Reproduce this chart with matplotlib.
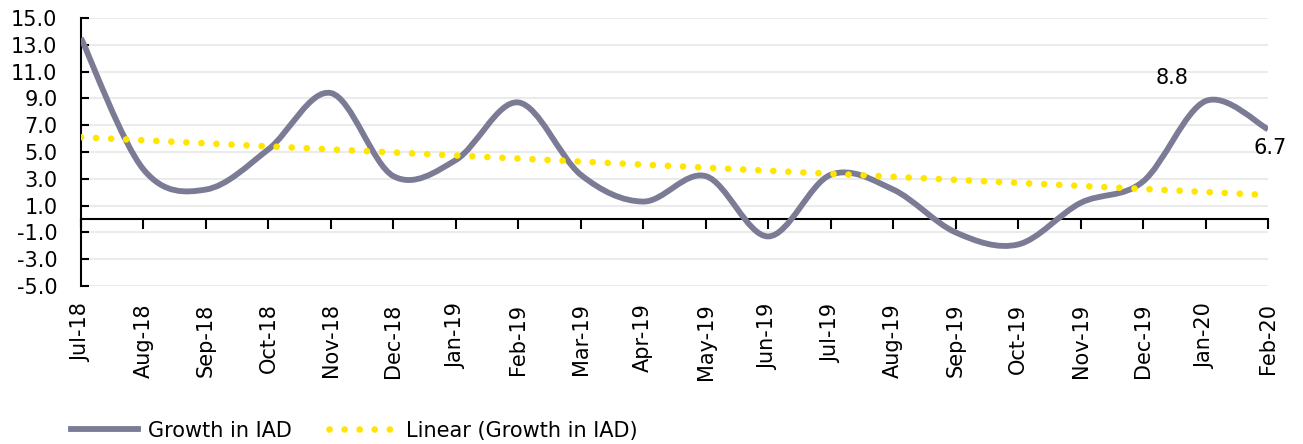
import matplotlib
matplotlib.use("Agg")
import matplotlib.pyplot as plt
import numpy as np
from matplotlib.path import Path
from matplotlib.patches import PathPatch
from matplotlib.lines import Line2D
import matplotlib.transforms as mtransforms

plt.rcParams['axes.unicode_minus'] = False
plt.rcParams['font.family'] = ['DejaVu Sans']

# data
months = ['Jul-18', 'Aug-18', 'Sep-18', 'Oct-18', 'Nov-18', 'Dec-18', 'Jan-19',
          'Feb-19', 'Mar-19', 'Apr-19', 'May-19', 'Jun-19', 'Jul-19', 'Aug-19',
          'Sep-19', 'Oct-19', 'Nov-19', 'Dec-19', 'Jan-20', 'Feb-20']
growth = [13.5, 3.7, 2.2, 5.2, 9.4, 3.2, 4.4, 8.7, 3.3, 1.3, 3.2, -1.3, 3.3, 2.2,
          -1.0, -1.9, 1.2, 2.8, 8.8, 6.7]
labelled = {'Jan-20': 8.8, 'Feb-20': 6.7}
yticks = [-5, -3, -1, 1, 3, 5, 7, 9, 11, 13, 15]

grey = '#7b7b95'
yellow = '#ffe600'

x = np.arange(len(months))
y = np.array(growth)

fig = plt.figure(figsize=(13.03, 4.44), dpi=100)
ax = fig.add_axes([81/1303, 1-286/444, (1268-81)/1303, (286-18)/444])

# smoothed line like excel (bezier through points)
verts = [(x[0], y[0])]
codes = [Path.MOVETO]
n = len(x)
for i in range(n-1):
    p0 = np.array([x[max(i-1, 0)], y[max(i-1, 0)]])
    p1 = np.array([x[i], y[i]])
    p2 = np.array([x[i+1], y[i+1]])
    p3 = np.array([x[min(i+2, n-1)], y[min(i+2, n-1)]])
    c1 = p1 + (p2 - p0) / 6
    c2 = p2 - (p3 - p1) / 6
    verts += [tuple(c1), tuple(c2), tuple(p2)]
    codes += [Path.CURVE4]*3
patch = PathPatch(Path(verts, codes), facecolor='none', edgecolor=grey, lw=4.2,
                  capstyle='butt', joinstyle='round', zorder=3)
ax.add_patch(patch)

# linear trend
k, b = np.polyfit(x, y, 1)
ax.plot(x, k*x + b, color=yellow, lw=4.8, linestyle=(0, (0.01, 2.25)),
        dash_capstyle='round', zorder=4)

# data labels
ax.annotate('8.8', (months.index('Jan-20'), labelled['Jan-20']), xytext=(-33, 23),
            textcoords='offset pixels', ha='center', va='center', fontsize=15)
ax.annotate('6.7', (months.index('Feb-20'), labelled['Feb-20']), xytext=(2, -19),
            textcoords='offset pixels', ha='center', va='center', fontsize=15)

ax.set_xlim(0, len(months)-1)
ax.set_ylim(-5, 15)
ax.set_yticks(yticks)
ax.set_yticklabels([f'{v:.1f}' for v in yticks], fontsize=15)
ax.yaxis.grid(True, color='#ebebeb', lw=1.5, zorder=0)
ax.set_axisbelow(True)

for s in ['top', 'right']:
    ax.spines[s].set_visible(False)
ax.spines['left'].set_linewidth(1.5)
ax.spines['bottom'].set_position(('data', 0))
ax.spines['bottom'].set_linewidth(1.5)
ax.tick_params(axis='y', direction='in', length=6, width=1.5, pad=17)
ax.set_xticks(x)
ax.tick_params(axis='x', direction='out', length=7, width=1.5, labelbottom=False)

trans = mtransforms.blended_transform_factory(ax.transData, ax.transAxes)
for i, m in enumerate(months):
    ax.text(i, -0.065, m, transform=trans, rotation=90, ha='center', va='top',
            fontsize=15)

handles = [Line2D([], [], color=grey, lw=4.2),
           Line2D([], [], color=yellow, lw=4.8, linestyle=(0, (0.01, 2.25)),
                  dash_capstyle='round')]
fig.legend(handles, ['Growth in IAD', 'Linear (Growth in IAD)'], loc='lower left',
           bbox_to_anchor=(0.04, -0.035), ncol=2, frameon=False, fontsize=15,
           handlelength=3.2, columnspacing=1.8, handletextpad=0.5)

fig.savefig('out.png', dpi=100)
